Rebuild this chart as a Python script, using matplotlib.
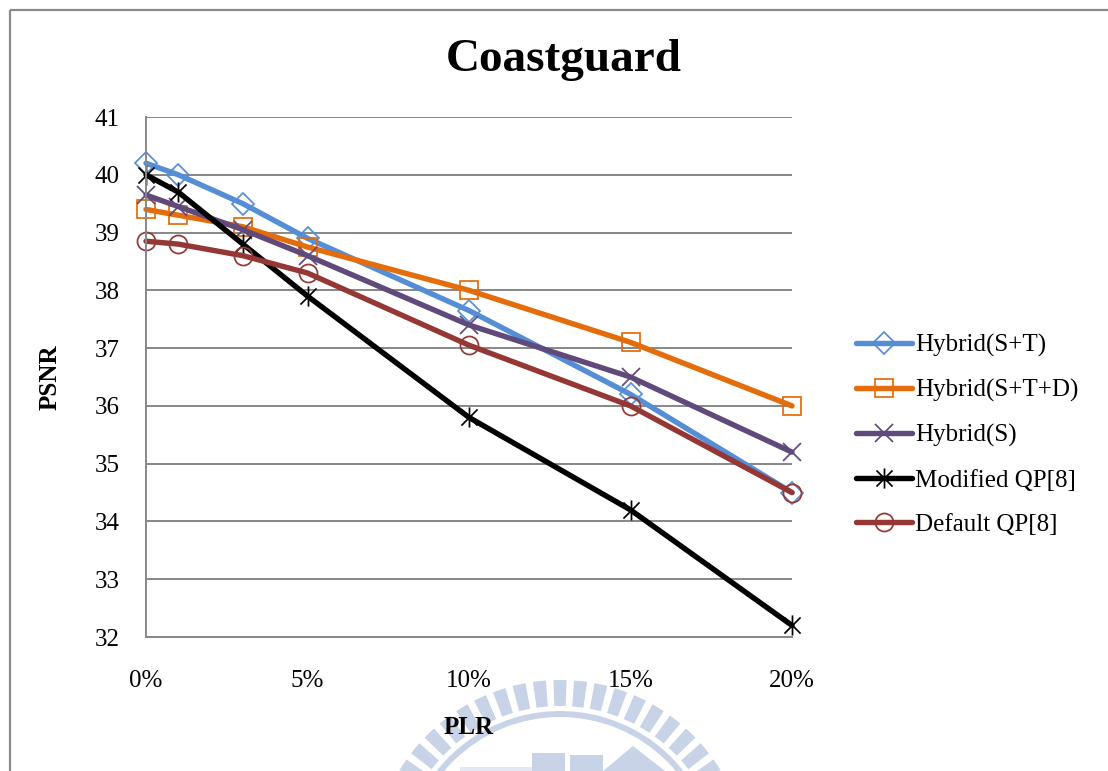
import matplotlib
matplotlib.use("Agg")
import matplotlib.pyplot as plt
from matplotlib.path import Path
from matplotlib.patches import Rectangle, Wedge, Polygon
import numpy as np

plt.rcParams['font.family'] = ['Liberation Serif', 'DejaVu Serif']

# packet loss rate (%) and PSNR per scheme
plr = [0, 1, 3, 5, 10, 15, 20]
hybrid_st = [40.2, 40.0, 39.5, 38.9, 37.65, 36.2, 34.5]
hybrid_std = [39.4, 39.3, 39.1, 38.75, 38.0, 37.1, 36.0]
hybrid_s = [39.65, 39.45, 39.05, 38.6, 37.4, 36.5, 35.2]
modified_qp = [40.0, 39.7, 38.8, 37.9, 35.8, 34.2, 32.2]
default_qp = [38.85, 38.8, 38.6, 38.3, 37.05, 36.0, 34.5]

names = ['Hybrid(S+T)', 'Hybrid(S+T+D)', 'Hybrid(S)', 'Modified QP[8]', 'Default QP[8]']
xticks = [0, 5, 10, 15, 20]
xticklabels = ['0%', '5%', '10%', '15%', '20%']
yticks = [32, 33, 34, 35, 36, 37, 38, 39, 40, 41]

# excel style star: an x with a vertical bar through it
star = Path([(-1, -1), (1, 1), (-1, 1), (1, -1), (0, -1.25), (0, 1.25)],
            [Path.MOVETO, Path.LINETO, Path.MOVETO, Path.LINETO, Path.MOVETO, Path.LINETO])

W, H = 1108, 771
fig = plt.figure(figsize=(W / 100, H / 100), dpi=100)

# background layer in pixel coords (y grows downward): frame + faint logo
bg = fig.add_axes([0, 0, 1, 1], zorder=-1)
bg.set_xlim(0, W)
bg.set_ylim(H, 0)
bg.axis('off')
bg.add_patch(Rectangle((9.5, 9.5), 1300, 1000, fill=False, ec='#8a8a8a', lw=1.6))
logo = '#c8d3e7'
cx, cy = 560, 868
for ang in np.arange(270 - 6.3 * 14, 270 + 6.3 * 15, 6.3):
    bg.add_patch(Wedge((cx, cy), 188, ang - 2.0, ang + 2.0, width=26, fc=logo, ec='none'))
bg.add_patch(Wedge((cx, cy), 157, 180, 360, width=6, fc=logo, ec='none'))
bg.add_patch(Rectangle((532, 753), 33, 30, fc=logo, ec='none'))
bg.add_patch(Rectangle((570, 755), 33, 30, fc=logo, ec='none'))
bg.add_patch(Polygon([(603, 771), (633, 746), (665, 771)], closed=True, fc=logo, ec='none'))
bg.add_patch(Rectangle((460, 767), 72, 6, fc='#e3e8f3', ec='none'))

ax = fig.add_axes([146 / W, 1 - 637 / H, (792 - 146) / W, (637 - 117) / H])
ax.patch.set_alpha(0)

series = [
    (hybrid_st, '#558ed5', 'D', 11),
    (hybrid_std, '#e46c0a', 's', 12.5),
    (hybrid_s, '#604a7b', 'x', 12.5),
    (modified_qp, '#000000', star, 14.5),
    (default_qp, '#953735', 'o', 13),
]
for (vals, col, mk, ms), name in zip(series, names):
    ax.plot(plr, vals, color=col, lw=3.9, marker=mk, ms=ms, mfc='none',
            mec=col, mew=1.25, label=name, solid_capstyle='round',
            solid_joinstyle='round', clip_on=False)

ax.set_xlim(0, 20)
ax.set_ylim(32, 41)
ax.set_xticks(xticks)
ax.set_xticklabels(xticklabels)
ax.set_yticks(yticks)
ax.tick_params(length=0, labelsize=18)
ax.tick_params(axis='x', pad=24)
ax.tick_params(axis='y', pad=19)
ax.grid(axis='y', color='#878787', lw=1.4)
ax.set_axisbelow(True)
for side in ['top', 'right']:
    ax.spines[side].set_visible(False)
for side in ['left', 'bottom']:
    ax.spines[side].set_color('#878787')
    ax.spines[side].set_linewidth(1.4)

fig.text(564 / W, 1 - 60 / H, 'Coastguard', ha='center', va='center',
         fontsize=34, fontweight='bold')
fig.text(469 / W, 1 - 728 / H, 'PLR', ha='center', va='center',
         fontsize=18, fontweight='bold')
fig.text(50 / W, 1 - 377 / H, 'PSNR', ha='center', va='center',
         fontsize=18, fontweight='bold', rotation=90)

fig.legend(loc='center left', bbox_to_anchor=(856 / W, 1 - 435 / H),
           frameon=False, fontsize=18, handlelength=2.25, handletextpad=0.1,
           labelspacing=0.88, borderpad=0, borderaxespad=0, numpoints=1)

fig.savefig('out.png', dpi=100)
